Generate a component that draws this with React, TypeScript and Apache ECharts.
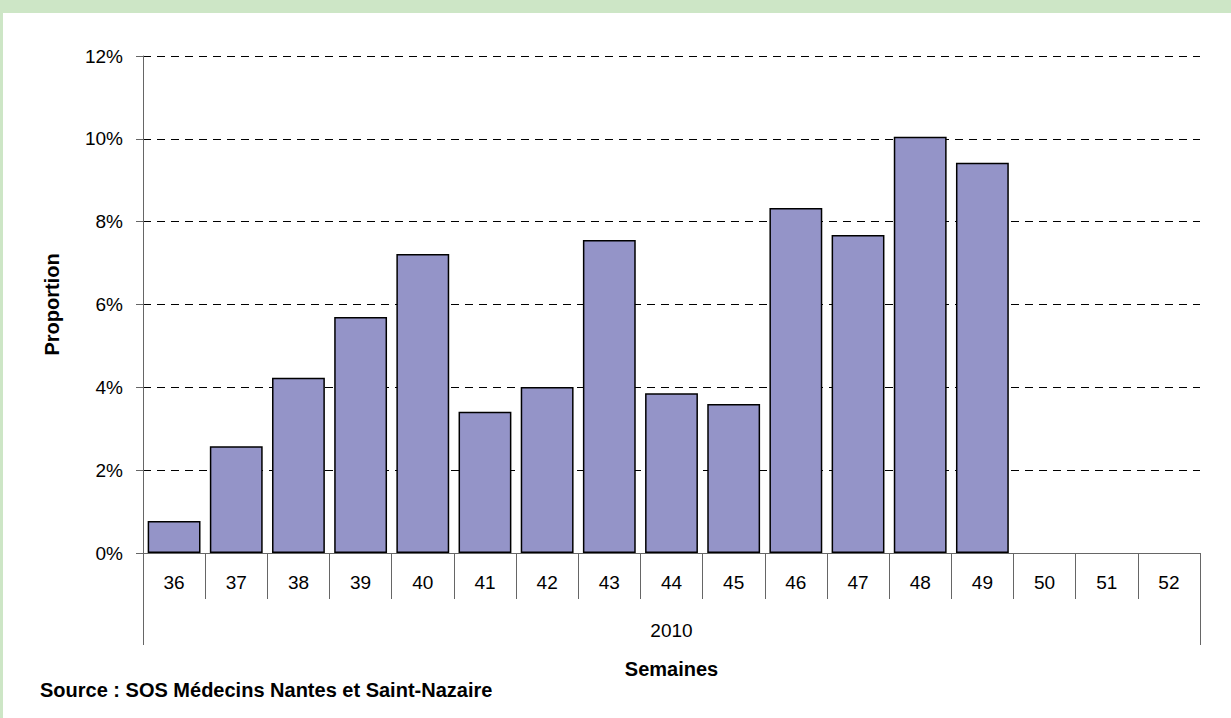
import React, { useEffect, useRef } from "react";
import * as echarts from "echarts";

const weeks = ["36", "37", "38", "39", "40", "41", "42", "43", "44", "45", "46", "47", "48", "49", "50", "51", "52"];
const proportion = [0.77, 2.58, 4.23, 5.7, 7.22, 3.41, 4.01, 7.56, 3.86, 3.6, 8.33, 7.68, 10.05, 9.42, null, null, null];
const years = ["2010"];
const yTitle = "Proportion";
const xTitle = "Semaines";
const sourceText = "Source : SOS Médecins Nantes et Saint-Nazaire";

const FONT = "'Liberation Sans', Arial, sans-serif";

export default function App() {
  const ref = useRef<HTMLDivElement>(null);
  useEffect(() => {
    if (!ref.current) return;
    const chart = echarts.init(ref.current, null, { renderer: "svg" });
    const axisColor = "#666666";
    chart.setOption({
      animation: false,
      backgroundColor: "#ffffff",
      textStyle: { fontFamily: FONT },
      graphic: [
        { type: "rect", left: 0, top: 0, shape: { width: 1231, height: 13 }, style: { fill: "#cde6c6" }, silent: true },
        { type: "rect", left: 0, top: 0, shape: { width: 3, height: 718 }, style: { fill: "#cde6c6" }, silent: true },
        {
          type: "text",
          left: 40,
          top: 680,
          style: { text: sourceText, font: `bold 20px ${FONT}`, fill: "#000" },
        },
      ],
      grid: { left: 143, right: 31, top: 56, bottom: 165, containLabel: false },
      xAxis: [
        {
          type: "category",
          data: weeks,
          position: "bottom",
          axisLine: { show: true, lineStyle: { color: axisColor, width: 1 } },
          axisTick: { show: true, interval: 0, length: 46, alignWithLabel: false, lineStyle: { color: axisColor } },
          axisLabel: { interval: 0, margin: 20, fontSize: 19, color: "#000", fontFamily: FONT },
          splitLine: { show: false },
        },
        {
          type: "category",
          data: years,
          position: "bottom",
          offset: 46,
          axisLine: { show: false },
          axisTick: { show: true, length: 46, alignWithLabel: false, lineStyle: { color: axisColor } },
          axisLabel: { margin: 22, fontSize: 19, color: "#000", fontFamily: FONT },
          name: xTitle,
          nameLocation: "middle",
          nameGap: 60,
          nameTextStyle: { fontSize: 20, fontWeight: "bold", color: "#000", fontFamily: FONT },
        },
      ],
      yAxis: {
        type: "value",
        min: 0,
        max: 12,
        interval: 2,
        name: yTitle,
        nameLocation: "middle",
        nameGap: 81,
        nameRotate: 90,
        nameTextStyle: { fontSize: 20, fontWeight: "bold", color: "#000", fontFamily: FONT },
        axisLine: { show: true, lineStyle: { color: axisColor, width: 1 } },
        axisTick: { show: true, length: 7, lineStyle: { color: axisColor } },
        axisLabel: { formatter: "{value}%", margin: 20, fontSize: 19, color: "#000", fontFamily: FONT },
        splitLine: { show: true, lineStyle: { color: "#000", width: 1, type: [8, 6] } },
      },
      series: [
        {
          type: "bar",
          xAxisIndex: 0,
          data: proportion,
          barCategoryGap: "15%",
          itemStyle: { color: "#9494c8", borderColor: "#000", borderWidth: 1.5 },
        },
      ],
    });
    return () => chart.dispose();
  }, []);
  return <div ref={ref} style={{ position: "absolute", left: 0, top: 0, width: 1231, height: 718 }} />;
}
